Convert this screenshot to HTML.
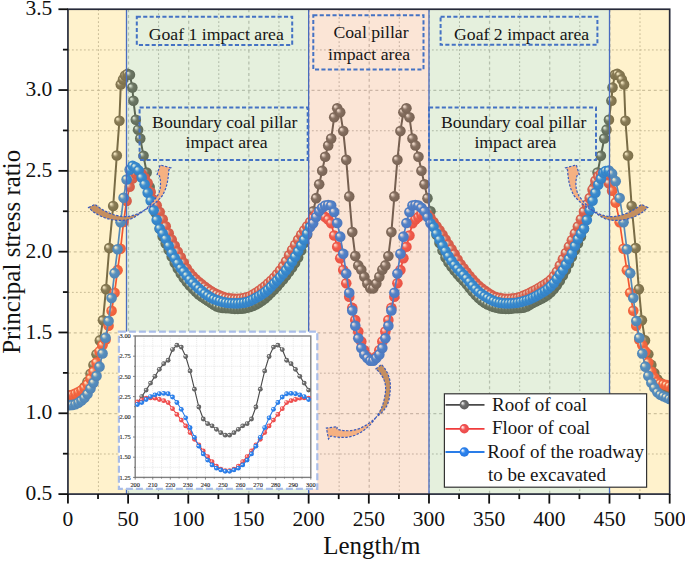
<!DOCTYPE html><html><head><meta charset="utf-8"><style>html,body{margin:0;padding:0;background:#fff;}svg{display:block;}text{font-family:"Liberation Serif",serif;}</style></head><body>
<svg width="685" height="561" viewBox="0 0 685 561">
<defs>
<radialGradient id="gG" cx="50%" cy="50%" r="50%" fx="27%" fy="30%"><stop offset="0" stop-color="#f4f4f4"/><stop offset="0.16" stop-color="#dcdcdc"/><stop offset="0.34" stop-color="#959595"/><stop offset="0.5" stop-color="#6c6c6c"/><stop offset="1" stop-color="#5c5c5c"/></radialGradient>
<radialGradient id="gR" cx="50%" cy="50%" r="50%" fx="27%" fy="30%"><stop offset="0" stop-color="#fff6f6"/><stop offset="0.16" stop-color="#ffd6d6"/><stop offset="0.34" stop-color="#f68484"/><stop offset="0.5" stop-color="#f25454"/><stop offset="1" stop-color="#ea4848"/></radialGradient>
<radialGradient id="gB" cx="50%" cy="50%" r="50%" fx="27%" fy="30%"><stop offset="0" stop-color="#f6faff"/><stop offset="0.16" stop-color="#d6e6fc"/><stop offset="0.34" stop-color="#68a6f2"/><stop offset="0.5" stop-color="#2c84ee"/><stop offset="1" stop-color="#2676e2"/></radialGradient>
<clipPath id="cp"><rect x="67.94" y="9.24" width="601.74" height="484.85"/></clipPath>
<linearGradient id="arrL" gradientUnits="userSpaceOnUse" x1="89" y1="0" x2="171" y2="0"><stop offset="0" stop-color="#c48c5b"/><stop offset="0.5" stop-color="#c99262"/><stop offset="0.72" stop-color="#f1ad7b"/><stop offset="1" stop-color="#f6b282"/></linearGradient>
<linearGradient id="arrM" gradientUnits="userSpaceOnUse" x1="0" y1="364" x2="0" y2="439"><stop offset="0" stop-color="#c48c5b"/><stop offset="0.5" stop-color="#c99262"/><stop offset="0.72" stop-color="#f1ad7b"/><stop offset="1" stop-color="#f6b282"/></linearGradient>
</defs>
<g stroke="#c4c4c4" stroke-width="1.25" stroke-dasharray="3 2.8"><line x1="128.51" y1="9.24" x2="128.51" y2="494.09"/><line x1="188.69" y1="9.24" x2="188.69" y2="494.09"/><line x1="248.86" y1="9.24" x2="248.86" y2="494.09"/><line x1="309.04" y1="9.24" x2="309.04" y2="494.09"/><line x1="369.21" y1="9.24" x2="369.21" y2="494.09"/><line x1="429.38" y1="9.24" x2="429.38" y2="494.09"/><line x1="489.56" y1="9.24" x2="489.56" y2="494.09"/><line x1="549.73" y1="9.24" x2="549.73" y2="494.09"/><line x1="609.91" y1="9.24" x2="609.91" y2="494.09"/><line x1="67.94" y1="413.58" x2="669.68" y2="413.58"/><line x1="67.94" y1="332.77" x2="669.68" y2="332.77"/><line x1="67.94" y1="251.97" x2="669.68" y2="251.97"/><line x1="67.94" y1="171.16" x2="669.68" y2="171.16"/><line x1="67.94" y1="90.35" x2="669.68" y2="90.35"/></g>
<g stroke="#bcbcbc" stroke-width="1" stroke-dasharray="1.8 2.2"><line x1="98.43" y1="9.24" x2="98.43" y2="494.09"/><line x1="158.60" y1="9.24" x2="158.60" y2="494.09"/><line x1="218.78" y1="9.24" x2="218.78" y2="494.09"/><line x1="278.95" y1="9.24" x2="278.95" y2="494.09"/><line x1="339.12" y1="9.24" x2="339.12" y2="494.09"/><line x1="399.30" y1="9.24" x2="399.30" y2="494.09"/><line x1="459.47" y1="9.24" x2="459.47" y2="494.09"/><line x1="519.65" y1="9.24" x2="519.65" y2="494.09"/><line x1="579.82" y1="9.24" x2="579.82" y2="494.09"/><line x1="639.99" y1="9.24" x2="639.99" y2="494.09"/><line x1="67.94" y1="453.99" x2="669.68" y2="453.99"/><line x1="67.94" y1="373.18" x2="669.68" y2="373.18"/><line x1="67.94" y1="292.37" x2="669.68" y2="292.37"/><line x1="67.94" y1="211.56" x2="669.68" y2="211.56"/><line x1="67.94" y1="130.75" x2="669.68" y2="130.75"/><line x1="67.94" y1="49.94" x2="669.68" y2="49.94"/></g>
<g clip-path="url(#cp)">
<polyline points="69.44,397.07 72.45,396.73 75.46,395.96 78.47,393.88 81.48,391.05 84.49,386.98 87.50,381.64 90.51,373.85 93.51,364.97 96.52,354.18 99.83,340.39 102.96,320.35 105.97,289.16 109.22,248.11 113.19,205.93 116.80,155.50 119.39,120.76 120.77,84.39 123.00,79.54 125.11,75.50 127.51,73.89 129.92,74.86 132.33,87.62 133.41,100.72 135.82,119.79 138.10,129.65 140.27,138.53 143.52,155.83 146.65,172.47 149.66,187.02 152.66,199.95 155.67,212.88 159.71,228.74 162.71,236.53 165.72,243.50 168.73,250.06 171.74,256.55 174.75,262.97 177.76,268.57 180.77,273.48 183.77,277.92 186.78,281.97 189.79,285.57 192.80,288.80 195.81,291.73 198.82,294.41 201.83,296.76 204.84,298.86 207.84,300.80 210.85,302.65 213.86,304.68 216.87,306.50 219.88,307.56 222.89,307.88 225.90,308.08 228.91,308.31 231.91,308.62 234.92,308.85 237.93,308.84 240.94,308.67 243.95,308.38 246.96,307.77 249.97,306.97 252.98,305.88 255.98,304.53 258.99,302.83 262.00,300.80 265.01,298.52 268.02,295.87 271.03,292.83 274.04,289.69 277.04,286.47 280.05,283.09 283.06,279.58 286.07,275.85 289.08,271.82 292.09,267.49 295.10,262.96 298.11,257.62 301.11,250.62 304.12,243.02 307.13,234.70 310.14,224.19 313.15,211.26 316.16,198.17 319.17,184.27 322.18,170.70 325.18,156.80 328.19,145.48 331.20,138.53 334.21,117.20 337.22,108.31 340.23,112.19 343.24,131.10 346.24,159.87 349.25,196.39 352.26,232.11 355.27,256.03 358.28,265.40 361.29,269.77 364.30,276.72 367.31,283.50 370.31,288.35 373.32,288.35 376.33,283.50 379.34,276.72 382.35,269.77 385.36,265.40 388.37,256.03 391.38,232.11 394.38,196.39 397.39,159.87 400.40,131.10 403.41,112.19 406.42,108.31 409.43,117.20 412.44,138.53 415.44,145.48 418.45,156.80 421.46,170.70 424.47,184.27 427.48,198.17 430.49,211.26 433.50,224.19 436.51,234.68 439.51,242.98 442.52,250.52 445.53,257.40 448.54,262.51 451.55,266.70 454.56,270.58 457.57,274.13 460.58,277.48 463.58,280.83 466.59,284.32 469.60,287.89 472.61,291.49 475.62,295.00 478.63,298.02 481.64,300.54 484.64,302.71 487.65,304.49 490.66,305.87 493.67,306.97 496.68,307.77 499.69,308.38 502.70,308.67 505.71,308.84 508.71,308.85 511.72,308.62 514.73,308.31 517.74,308.09 520.75,307.89 523.76,307.59 526.77,306.57 529.78,304.84 532.78,303.00 535.79,301.47 538.80,300.00 541.81,298.51 544.82,296.85 547.83,294.79 550.84,292.26 553.85,289.11 556.85,285.23 559.86,280.63 562.87,275.50 565.88,269.94 568.89,263.80 571.90,257.01 574.91,250.29 577.91,243.60 580.92,236.57 583.93,228.75 588.09,212.88 591.25,199.95 594.41,187.02 597.57,172.47 600.85,155.83 604.26,138.53 606.54,129.65 608.94,119.79 611.43,100.72 612.51,87.62 614.92,74.86 617.33,73.89 619.74,75.50 621.84,79.54 624.07,84.39 625.45,120.76 628.04,155.50 631.65,205.93 635.62,248.11 638.87,289.16 641.88,320.35 645.01,340.39 648.32,354.18 651.33,364.91 654.34,372.98 657.34,379.25 660.35,382.80 663.36,385.20 666.37,386.88 669.38,388.68 672.39,389.46 675.40,389.80" fill="none" stroke="#585858" stroke-width="2.0" stroke-linejoin="round"/>
<circle cx="69.44" cy="397.07" r="5.3" fill="url(#gG)"/><circle cx="72.45" cy="396.73" r="5.3" fill="url(#gG)"/><circle cx="75.46" cy="395.96" r="5.3" fill="url(#gG)"/><circle cx="78.47" cy="393.88" r="5.3" fill="url(#gG)"/><circle cx="81.48" cy="391.05" r="5.3" fill="url(#gG)"/><circle cx="84.49" cy="386.98" r="5.3" fill="url(#gG)"/><circle cx="87.50" cy="381.64" r="5.3" fill="url(#gG)"/><circle cx="90.51" cy="373.85" r="5.3" fill="url(#gG)"/><circle cx="93.51" cy="364.97" r="5.3" fill="url(#gG)"/><circle cx="96.52" cy="354.18" r="5.3" fill="url(#gG)"/><circle cx="99.83" cy="340.39" r="5.3" fill="url(#gG)"/><circle cx="102.96" cy="320.35" r="5.3" fill="url(#gG)"/><circle cx="105.97" cy="289.16" r="5.3" fill="url(#gG)"/><circle cx="109.22" cy="248.11" r="5.3" fill="url(#gG)"/><circle cx="113.19" cy="205.93" r="5.3" fill="url(#gG)"/><circle cx="116.80" cy="155.50" r="5.3" fill="url(#gG)"/><circle cx="119.39" cy="120.76" r="5.3" fill="url(#gG)"/><circle cx="120.77" cy="84.39" r="5.3" fill="url(#gG)"/><circle cx="123.00" cy="79.54" r="5.3" fill="url(#gG)"/><circle cx="125.11" cy="75.50" r="5.3" fill="url(#gG)"/><circle cx="127.51" cy="73.89" r="5.3" fill="url(#gG)"/><circle cx="129.92" cy="74.86" r="5.3" fill="url(#gG)"/><circle cx="132.33" cy="87.62" r="5.3" fill="url(#gG)"/><circle cx="133.41" cy="100.72" r="5.3" fill="url(#gG)"/><circle cx="135.82" cy="119.79" r="5.3" fill="url(#gG)"/><circle cx="138.10" cy="129.65" r="5.3" fill="url(#gG)"/><circle cx="140.27" cy="138.53" r="5.3" fill="url(#gG)"/><circle cx="143.52" cy="155.83" r="5.3" fill="url(#gG)"/><circle cx="146.65" cy="172.47" r="5.3" fill="url(#gG)"/><circle cx="149.66" cy="187.02" r="5.3" fill="url(#gG)"/><circle cx="152.66" cy="199.95" r="5.3" fill="url(#gG)"/><circle cx="155.67" cy="212.88" r="5.3" fill="url(#gG)"/><circle cx="159.71" cy="228.74" r="5.3" fill="url(#gG)"/><circle cx="162.71" cy="236.53" r="5.3" fill="url(#gG)"/><circle cx="165.72" cy="243.50" r="5.3" fill="url(#gG)"/><circle cx="168.73" cy="250.06" r="5.3" fill="url(#gG)"/><circle cx="171.74" cy="256.55" r="5.3" fill="url(#gG)"/><circle cx="174.75" cy="262.97" r="5.3" fill="url(#gG)"/><circle cx="177.76" cy="268.57" r="5.3" fill="url(#gG)"/><circle cx="180.77" cy="273.48" r="5.3" fill="url(#gG)"/><circle cx="183.77" cy="277.92" r="5.3" fill="url(#gG)"/><circle cx="186.78" cy="281.97" r="5.3" fill="url(#gG)"/><circle cx="189.79" cy="285.57" r="5.3" fill="url(#gG)"/><circle cx="192.80" cy="288.80" r="5.3" fill="url(#gG)"/><circle cx="195.81" cy="291.73" r="5.3" fill="url(#gG)"/><circle cx="198.82" cy="294.41" r="5.3" fill="url(#gG)"/><circle cx="201.83" cy="296.76" r="5.3" fill="url(#gG)"/><circle cx="204.84" cy="298.86" r="5.3" fill="url(#gG)"/><circle cx="207.84" cy="300.80" r="5.3" fill="url(#gG)"/><circle cx="210.85" cy="302.65" r="5.3" fill="url(#gG)"/><circle cx="213.86" cy="304.68" r="5.3" fill="url(#gG)"/><circle cx="216.87" cy="306.50" r="5.3" fill="url(#gG)"/><circle cx="219.88" cy="307.56" r="5.3" fill="url(#gG)"/><circle cx="222.89" cy="307.88" r="5.3" fill="url(#gG)"/><circle cx="225.90" cy="308.08" r="5.3" fill="url(#gG)"/><circle cx="228.91" cy="308.31" r="5.3" fill="url(#gG)"/><circle cx="231.91" cy="308.62" r="5.3" fill="url(#gG)"/><circle cx="234.92" cy="308.85" r="5.3" fill="url(#gG)"/><circle cx="237.93" cy="308.84" r="5.3" fill="url(#gG)"/><circle cx="240.94" cy="308.67" r="5.3" fill="url(#gG)"/><circle cx="243.95" cy="308.38" r="5.3" fill="url(#gG)"/><circle cx="246.96" cy="307.77" r="5.3" fill="url(#gG)"/><circle cx="249.97" cy="306.97" r="5.3" fill="url(#gG)"/><circle cx="252.98" cy="305.88" r="5.3" fill="url(#gG)"/><circle cx="255.98" cy="304.53" r="5.3" fill="url(#gG)"/><circle cx="258.99" cy="302.83" r="5.3" fill="url(#gG)"/><circle cx="262.00" cy="300.80" r="5.3" fill="url(#gG)"/><circle cx="265.01" cy="298.52" r="5.3" fill="url(#gG)"/><circle cx="268.02" cy="295.87" r="5.3" fill="url(#gG)"/><circle cx="271.03" cy="292.83" r="5.3" fill="url(#gG)"/><circle cx="274.04" cy="289.69" r="5.3" fill="url(#gG)"/><circle cx="277.04" cy="286.47" r="5.3" fill="url(#gG)"/><circle cx="280.05" cy="283.09" r="5.3" fill="url(#gG)"/><circle cx="283.06" cy="279.58" r="5.3" fill="url(#gG)"/><circle cx="286.07" cy="275.85" r="5.3" fill="url(#gG)"/><circle cx="289.08" cy="271.82" r="5.3" fill="url(#gG)"/><circle cx="292.09" cy="267.49" r="5.3" fill="url(#gG)"/><circle cx="295.10" cy="262.96" r="5.3" fill="url(#gG)"/><circle cx="298.11" cy="257.62" r="5.3" fill="url(#gG)"/><circle cx="301.11" cy="250.62" r="5.3" fill="url(#gG)"/><circle cx="304.12" cy="243.02" r="5.3" fill="url(#gG)"/><circle cx="307.13" cy="234.70" r="5.3" fill="url(#gG)"/><circle cx="310.14" cy="224.19" r="5.3" fill="url(#gG)"/><circle cx="313.15" cy="211.26" r="5.3" fill="url(#gG)"/><circle cx="316.16" cy="198.17" r="5.3" fill="url(#gG)"/><circle cx="319.17" cy="184.27" r="5.3" fill="url(#gG)"/><circle cx="322.18" cy="170.70" r="5.3" fill="url(#gG)"/><circle cx="325.18" cy="156.80" r="5.3" fill="url(#gG)"/><circle cx="328.19" cy="145.48" r="5.3" fill="url(#gG)"/><circle cx="331.20" cy="138.53" r="5.3" fill="url(#gG)"/><circle cx="334.21" cy="117.20" r="5.3" fill="url(#gG)"/><circle cx="337.22" cy="108.31" r="5.3" fill="url(#gG)"/><circle cx="340.23" cy="112.19" r="5.3" fill="url(#gG)"/><circle cx="343.24" cy="131.10" r="5.3" fill="url(#gG)"/><circle cx="346.24" cy="159.87" r="5.3" fill="url(#gG)"/><circle cx="349.25" cy="196.39" r="5.3" fill="url(#gG)"/><circle cx="352.26" cy="232.11" r="5.3" fill="url(#gG)"/><circle cx="355.27" cy="256.03" r="5.3" fill="url(#gG)"/><circle cx="358.28" cy="265.40" r="5.3" fill="url(#gG)"/><circle cx="361.29" cy="269.77" r="5.3" fill="url(#gG)"/><circle cx="364.30" cy="276.72" r="5.3" fill="url(#gG)"/><circle cx="367.31" cy="283.50" r="5.3" fill="url(#gG)"/><circle cx="370.31" cy="288.35" r="5.3" fill="url(#gG)"/><circle cx="373.32" cy="288.35" r="5.3" fill="url(#gG)"/><circle cx="376.33" cy="283.50" r="5.3" fill="url(#gG)"/><circle cx="379.34" cy="276.72" r="5.3" fill="url(#gG)"/><circle cx="382.35" cy="269.77" r="5.3" fill="url(#gG)"/><circle cx="385.36" cy="265.40" r="5.3" fill="url(#gG)"/><circle cx="388.37" cy="256.03" r="5.3" fill="url(#gG)"/><circle cx="391.38" cy="232.11" r="5.3" fill="url(#gG)"/><circle cx="394.38" cy="196.39" r="5.3" fill="url(#gG)"/><circle cx="397.39" cy="159.87" r="5.3" fill="url(#gG)"/><circle cx="400.40" cy="131.10" r="5.3" fill="url(#gG)"/><circle cx="403.41" cy="112.19" r="5.3" fill="url(#gG)"/><circle cx="406.42" cy="108.31" r="5.3" fill="url(#gG)"/><circle cx="409.43" cy="117.20" r="5.3" fill="url(#gG)"/><circle cx="412.44" cy="138.53" r="5.3" fill="url(#gG)"/><circle cx="415.44" cy="145.48" r="5.3" fill="url(#gG)"/><circle cx="418.45" cy="156.80" r="5.3" fill="url(#gG)"/><circle cx="421.46" cy="170.70" r="5.3" fill="url(#gG)"/><circle cx="424.47" cy="184.27" r="5.3" fill="url(#gG)"/><circle cx="427.48" cy="198.17" r="5.3" fill="url(#gG)"/><circle cx="430.49" cy="211.26" r="5.3" fill="url(#gG)"/><circle cx="433.50" cy="224.19" r="5.3" fill="url(#gG)"/><circle cx="436.51" cy="234.68" r="5.3" fill="url(#gG)"/><circle cx="439.51" cy="242.98" r="5.3" fill="url(#gG)"/><circle cx="442.52" cy="250.52" r="5.3" fill="url(#gG)"/><circle cx="445.53" cy="257.40" r="5.3" fill="url(#gG)"/><circle cx="448.54" cy="262.51" r="5.3" fill="url(#gG)"/><circle cx="451.55" cy="266.70" r="5.3" fill="url(#gG)"/><circle cx="454.56" cy="270.58" r="5.3" fill="url(#gG)"/><circle cx="457.57" cy="274.13" r="5.3" fill="url(#gG)"/><circle cx="460.58" cy="277.48" r="5.3" fill="url(#gG)"/><circle cx="463.58" cy="280.83" r="5.3" fill="url(#gG)"/><circle cx="466.59" cy="284.32" r="5.3" fill="url(#gG)"/><circle cx="469.60" cy="287.89" r="5.3" fill="url(#gG)"/><circle cx="472.61" cy="291.49" r="5.3" fill="url(#gG)"/><circle cx="475.62" cy="295.00" r="5.3" fill="url(#gG)"/><circle cx="478.63" cy="298.02" r="5.3" fill="url(#gG)"/><circle cx="481.64" cy="300.54" r="5.3" fill="url(#gG)"/><circle cx="484.64" cy="302.71" r="5.3" fill="url(#gG)"/><circle cx="487.65" cy="304.49" r="5.3" fill="url(#gG)"/><circle cx="490.66" cy="305.87" r="5.3" fill="url(#gG)"/><circle cx="493.67" cy="306.97" r="5.3" fill="url(#gG)"/><circle cx="496.68" cy="307.77" r="5.3" fill="url(#gG)"/><circle cx="499.69" cy="308.38" r="5.3" fill="url(#gG)"/><circle cx="502.70" cy="308.67" r="5.3" fill="url(#gG)"/><circle cx="505.71" cy="308.84" r="5.3" fill="url(#gG)"/><circle cx="508.71" cy="308.85" r="5.3" fill="url(#gG)"/><circle cx="511.72" cy="308.62" r="5.3" fill="url(#gG)"/><circle cx="514.73" cy="308.31" r="5.3" fill="url(#gG)"/><circle cx="517.74" cy="308.09" r="5.3" fill="url(#gG)"/><circle cx="520.75" cy="307.89" r="5.3" fill="url(#gG)"/><circle cx="523.76" cy="307.59" r="5.3" fill="url(#gG)"/><circle cx="526.77" cy="306.57" r="5.3" fill="url(#gG)"/><circle cx="529.78" cy="304.84" r="5.3" fill="url(#gG)"/><circle cx="532.78" cy="303.00" r="5.3" fill="url(#gG)"/><circle cx="535.79" cy="301.47" r="5.3" fill="url(#gG)"/><circle cx="538.80" cy="300.00" r="5.3" fill="url(#gG)"/><circle cx="541.81" cy="298.51" r="5.3" fill="url(#gG)"/><circle cx="544.82" cy="296.85" r="5.3" fill="url(#gG)"/><circle cx="547.83" cy="294.79" r="5.3" fill="url(#gG)"/><circle cx="550.84" cy="292.26" r="5.3" fill="url(#gG)"/><circle cx="553.85" cy="289.11" r="5.3" fill="url(#gG)"/><circle cx="556.85" cy="285.23" r="5.3" fill="url(#gG)"/><circle cx="559.86" cy="280.63" r="5.3" fill="url(#gG)"/><circle cx="562.87" cy="275.50" r="5.3" fill="url(#gG)"/><circle cx="565.88" cy="269.94" r="5.3" fill="url(#gG)"/><circle cx="568.89" cy="263.80" r="5.3" fill="url(#gG)"/><circle cx="571.90" cy="257.01" r="5.3" fill="url(#gG)"/><circle cx="574.91" cy="250.29" r="5.3" fill="url(#gG)"/><circle cx="577.91" cy="243.60" r="5.3" fill="url(#gG)"/><circle cx="580.92" cy="236.57" r="5.3" fill="url(#gG)"/><circle cx="583.93" cy="228.75" r="5.3" fill="url(#gG)"/><circle cx="588.09" cy="212.88" r="5.3" fill="url(#gG)"/><circle cx="591.25" cy="199.95" r="5.3" fill="url(#gG)"/><circle cx="594.41" cy="187.02" r="5.3" fill="url(#gG)"/><circle cx="597.57" cy="172.47" r="5.3" fill="url(#gG)"/><circle cx="600.85" cy="155.83" r="5.3" fill="url(#gG)"/><circle cx="604.26" cy="138.53" r="5.3" fill="url(#gG)"/><circle cx="606.54" cy="129.65" r="5.3" fill="url(#gG)"/><circle cx="608.94" cy="119.79" r="5.3" fill="url(#gG)"/><circle cx="611.43" cy="100.72" r="5.3" fill="url(#gG)"/><circle cx="612.51" cy="87.62" r="5.3" fill="url(#gG)"/><circle cx="614.92" cy="74.86" r="5.3" fill="url(#gG)"/><circle cx="617.33" cy="73.89" r="5.3" fill="url(#gG)"/><circle cx="619.74" cy="75.50" r="5.3" fill="url(#gG)"/><circle cx="621.84" cy="79.54" r="5.3" fill="url(#gG)"/><circle cx="624.07" cy="84.39" r="5.3" fill="url(#gG)"/><circle cx="625.45" cy="120.76" r="5.3" fill="url(#gG)"/><circle cx="628.04" cy="155.50" r="5.3" fill="url(#gG)"/><circle cx="631.65" cy="205.93" r="5.3" fill="url(#gG)"/><circle cx="635.62" cy="248.11" r="5.3" fill="url(#gG)"/><circle cx="638.87" cy="289.16" r="5.3" fill="url(#gG)"/><circle cx="641.88" cy="320.35" r="5.3" fill="url(#gG)"/><circle cx="645.01" cy="340.39" r="5.3" fill="url(#gG)"/><circle cx="648.32" cy="354.18" r="5.3" fill="url(#gG)"/><circle cx="651.33" cy="364.91" r="5.3" fill="url(#gG)"/><circle cx="654.34" cy="372.98" r="5.3" fill="url(#gG)"/><circle cx="657.34" cy="379.25" r="5.3" fill="url(#gG)"/><circle cx="660.35" cy="382.80" r="5.3" fill="url(#gG)"/><circle cx="663.36" cy="385.20" r="5.3" fill="url(#gG)"/><circle cx="666.37" cy="386.88" r="5.3" fill="url(#gG)"/><circle cx="669.38" cy="388.68" r="5.3" fill="url(#gG)"/><circle cx="672.39" cy="389.46" r="5.3" fill="url(#gG)"/><circle cx="675.40" cy="389.80" r="5.3" fill="url(#gG)"/>
<polyline points="69.44,395.34 72.45,394.71 75.46,393.62 78.47,392.12 81.48,390.19 84.49,387.68 87.50,384.27 90.51,378.74 93.51,371.56 96.52,362.54 99.53,351.39 102.54,345.18 105.55,339.81 108.56,325.75 111.57,310.77 114.57,292.80 117.58,270.13 120.59,248.69 123.60,221.93 126.61,200.90 129.62,186.82 132.63,178.53 135.64,173.80 138.64,171.69 141.65,173.82 144.66,177.69 147.67,183.11 150.68,192.00 153.69,199.78 156.70,205.40 159.71,211.96 162.71,219.31 165.72,226.37 168.73,233.19 171.74,239.67 174.75,245.83 177.76,251.65 180.77,257.22 183.77,262.81 186.78,268.38 189.79,272.74 192.80,276.22 195.81,279.25 198.82,281.94 201.83,284.40 204.84,286.79 207.84,289.06 210.85,291.00 213.86,292.71 216.87,294.24 219.88,295.55 222.89,296.75 225.90,297.78 228.91,298.33 231.91,298.65 234.92,298.84 237.93,298.78 240.94,298.43 243.95,297.96 246.96,297.22 249.97,296.19 252.98,294.57 255.98,292.69 258.99,290.74 262.00,288.58 265.01,286.18 268.02,283.56 271.03,280.80 274.04,277.78 277.04,274.34 280.05,270.52 283.06,266.34 286.07,261.25 289.08,255.27 292.09,249.97 295.10,244.90 298.11,239.84 301.11,234.92 304.12,230.40 307.13,226.25 310.14,222.09 313.15,217.73 316.16,214.49 319.17,214.01 322.18,214.49 325.18,217.08 328.19,219.50 331.20,223.22 334.21,235.50 337.22,246.82 340.23,258.13 343.24,269.93 346.24,283.18 349.25,296.76 352.26,307.91 355.27,320.03 358.28,331.50 361.29,341.53 364.30,350.25 367.31,356.56 370.31,359.46 373.32,359.46 376.33,356.56 379.34,350.25 382.35,341.53 385.36,331.50 388.37,320.03 391.38,307.91 394.38,296.76 397.39,283.18 400.40,269.93 403.41,258.13 406.42,246.82 409.43,235.50 412.44,223.22 415.44,219.50 418.45,217.08 421.46,214.49 424.47,214.01 427.48,214.49 430.49,217.73 433.50,222.09 436.51,226.23 439.51,230.36 442.52,234.83 445.53,239.62 448.54,244.45 451.55,249.18 454.56,254.03 457.57,259.53 460.58,264.24 463.58,268.26 466.59,272.19 469.60,275.98 472.61,279.46 475.62,282.68 478.63,285.68 481.64,288.32 484.64,290.62 487.65,292.65 490.66,294.55 493.67,296.19 496.68,297.22 499.69,297.96 502.70,298.43 505.71,298.78 508.71,298.84 511.72,298.65 514.73,298.33 517.74,297.78 520.75,296.76 523.76,295.58 526.77,294.31 529.78,292.88 532.78,291.35 535.79,289.72 538.80,287.93 541.81,286.16 544.82,284.38 547.83,282.32 550.84,279.69 553.85,276.28 556.85,271.64 559.86,265.52 562.87,259.24 565.88,253.02 568.89,246.66 571.90,240.13 574.91,233.41 577.91,226.46 580.92,219.25 583.93,211.61 586.86,204.46 589.71,198.04 592.55,189.66 595.40,180.86 598.25,176.37 600.95,174.04 603.30,173.62 605.66,177.44 608.83,183.35 612.09,190.66 615.70,202.59 619.66,222.27 623.56,248.73 626.87,270.13 630.18,292.80 633.27,310.77 636.28,325.75 639.29,339.81 642.30,345.18 645.31,351.39 648.32,362.54 651.33,371.51 654.34,377.86 657.34,381.89 660.35,383.50 663.36,384.33 666.37,385.12 669.38,386.35 672.39,387.44 675.40,388.07" fill="none" stroke="#f03c3c" stroke-width="1.7" stroke-linejoin="round"/>
<circle cx="69.44" cy="395.34" r="5.3" fill="url(#gR)"/><circle cx="72.45" cy="394.71" r="5.3" fill="url(#gR)"/><circle cx="75.46" cy="393.62" r="5.3" fill="url(#gR)"/><circle cx="78.47" cy="392.12" r="5.3" fill="url(#gR)"/><circle cx="81.48" cy="390.19" r="5.3" fill="url(#gR)"/><circle cx="84.49" cy="387.68" r="5.3" fill="url(#gR)"/><circle cx="87.50" cy="384.27" r="5.3" fill="url(#gR)"/><circle cx="90.51" cy="378.74" r="5.3" fill="url(#gR)"/><circle cx="93.51" cy="371.56" r="5.3" fill="url(#gR)"/><circle cx="96.52" cy="362.54" r="5.3" fill="url(#gR)"/><circle cx="99.53" cy="351.39" r="5.3" fill="url(#gR)"/><circle cx="102.54" cy="345.18" r="5.3" fill="url(#gR)"/><circle cx="105.55" cy="339.81" r="5.3" fill="url(#gR)"/><circle cx="108.56" cy="325.75" r="5.3" fill="url(#gR)"/><circle cx="111.57" cy="310.77" r="5.3" fill="url(#gR)"/><circle cx="114.57" cy="292.80" r="5.3" fill="url(#gR)"/><circle cx="117.58" cy="270.13" r="5.3" fill="url(#gR)"/><circle cx="120.59" cy="248.69" r="5.3" fill="url(#gR)"/><circle cx="123.60" cy="221.93" r="5.3" fill="url(#gR)"/><circle cx="126.61" cy="200.90" r="5.3" fill="url(#gR)"/><circle cx="129.62" cy="186.82" r="5.3" fill="url(#gR)"/><circle cx="132.63" cy="178.53" r="5.3" fill="url(#gR)"/><circle cx="135.64" cy="173.80" r="5.3" fill="url(#gR)"/><circle cx="138.64" cy="171.69" r="5.3" fill="url(#gR)"/><circle cx="141.65" cy="173.82" r="5.3" fill="url(#gR)"/><circle cx="144.66" cy="177.69" r="5.3" fill="url(#gR)"/><circle cx="147.67" cy="183.11" r="5.3" fill="url(#gR)"/><circle cx="150.68" cy="192.00" r="5.3" fill="url(#gR)"/><circle cx="153.69" cy="199.78" r="5.3" fill="url(#gR)"/><circle cx="156.70" cy="205.40" r="5.3" fill="url(#gR)"/><circle cx="159.71" cy="211.96" r="5.3" fill="url(#gR)"/><circle cx="162.71" cy="219.31" r="5.3" fill="url(#gR)"/><circle cx="165.72" cy="226.37" r="5.3" fill="url(#gR)"/><circle cx="168.73" cy="233.19" r="5.3" fill="url(#gR)"/><circle cx="171.74" cy="239.67" r="5.3" fill="url(#gR)"/><circle cx="174.75" cy="245.83" r="5.3" fill="url(#gR)"/><circle cx="177.76" cy="251.65" r="5.3" fill="url(#gR)"/><circle cx="180.77" cy="257.22" r="5.3" fill="url(#gR)"/><circle cx="183.77" cy="262.81" r="5.3" fill="url(#gR)"/><circle cx="186.78" cy="268.38" r="5.3" fill="url(#gR)"/><circle cx="189.79" cy="272.74" r="5.3" fill="url(#gR)"/><circle cx="192.80" cy="276.22" r="5.3" fill="url(#gR)"/><circle cx="195.81" cy="279.25" r="5.3" fill="url(#gR)"/><circle cx="198.82" cy="281.94" r="5.3" fill="url(#gR)"/><circle cx="201.83" cy="284.40" r="5.3" fill="url(#gR)"/><circle cx="204.84" cy="286.79" r="5.3" fill="url(#gR)"/><circle cx="207.84" cy="289.06" r="5.3" fill="url(#gR)"/><circle cx="210.85" cy="291.00" r="5.3" fill="url(#gR)"/><circle cx="213.86" cy="292.71" r="5.3" fill="url(#gR)"/><circle cx="216.87" cy="294.24" r="5.3" fill="url(#gR)"/><circle cx="219.88" cy="295.55" r="5.3" fill="url(#gR)"/><circle cx="222.89" cy="296.75" r="5.3" fill="url(#gR)"/><circle cx="225.90" cy="297.78" r="5.3" fill="url(#gR)"/><circle cx="228.91" cy="298.33" r="5.3" fill="url(#gR)"/><circle cx="231.91" cy="298.65" r="5.3" fill="url(#gR)"/><circle cx="234.92" cy="298.84" r="5.3" fill="url(#gR)"/><circle cx="237.93" cy="298.78" r="5.3" fill="url(#gR)"/><circle cx="240.94" cy="298.43" r="5.3" fill="url(#gR)"/><circle cx="243.95" cy="297.96" r="5.3" fill="url(#gR)"/><circle cx="246.96" cy="297.22" r="5.3" fill="url(#gR)"/><circle cx="249.97" cy="296.19" r="5.3" fill="url(#gR)"/><circle cx="252.98" cy="294.57" r="5.3" fill="url(#gR)"/><circle cx="255.98" cy="292.69" r="5.3" fill="url(#gR)"/><circle cx="258.99" cy="290.74" r="5.3" fill="url(#gR)"/><circle cx="262.00" cy="288.58" r="5.3" fill="url(#gR)"/><circle cx="265.01" cy="286.18" r="5.3" fill="url(#gR)"/><circle cx="268.02" cy="283.56" r="5.3" fill="url(#gR)"/><circle cx="271.03" cy="280.80" r="5.3" fill="url(#gR)"/><circle cx="274.04" cy="277.78" r="5.3" fill="url(#gR)"/><circle cx="277.04" cy="274.34" r="5.3" fill="url(#gR)"/><circle cx="280.05" cy="270.52" r="5.3" fill="url(#gR)"/><circle cx="283.06" cy="266.34" r="5.3" fill="url(#gR)"/><circle cx="286.07" cy="261.25" r="5.3" fill="url(#gR)"/><circle cx="289.08" cy="255.27" r="5.3" fill="url(#gR)"/><circle cx="292.09" cy="249.97" r="5.3" fill="url(#gR)"/><circle cx="295.10" cy="244.90" r="5.3" fill="url(#gR)"/><circle cx="298.11" cy="239.84" r="5.3" fill="url(#gR)"/><circle cx="301.11" cy="234.92" r="5.3" fill="url(#gR)"/><circle cx="304.12" cy="230.40" r="5.3" fill="url(#gR)"/><circle cx="307.13" cy="226.25" r="5.3" fill="url(#gR)"/><circle cx="310.14" cy="222.09" r="5.3" fill="url(#gR)"/><circle cx="313.15" cy="217.73" r="5.3" fill="url(#gR)"/><circle cx="316.16" cy="214.49" r="5.3" fill="url(#gR)"/><circle cx="319.17" cy="214.01" r="5.3" fill="url(#gR)"/><circle cx="322.18" cy="214.49" r="5.3" fill="url(#gR)"/><circle cx="325.18" cy="217.08" r="5.3" fill="url(#gR)"/><circle cx="328.19" cy="219.50" r="5.3" fill="url(#gR)"/><circle cx="331.20" cy="223.22" r="5.3" fill="url(#gR)"/><circle cx="334.21" cy="235.50" r="5.3" fill="url(#gR)"/><circle cx="337.22" cy="246.82" r="5.3" fill="url(#gR)"/><circle cx="340.23" cy="258.13" r="5.3" fill="url(#gR)"/><circle cx="343.24" cy="269.93" r="5.3" fill="url(#gR)"/><circle cx="346.24" cy="283.18" r="5.3" fill="url(#gR)"/><circle cx="349.25" cy="296.76" r="5.3" fill="url(#gR)"/><circle cx="352.26" cy="307.91" r="5.3" fill="url(#gR)"/><circle cx="355.27" cy="320.03" r="5.3" fill="url(#gR)"/><circle cx="358.28" cy="331.50" r="5.3" fill="url(#gR)"/><circle cx="361.29" cy="341.53" r="5.3" fill="url(#gR)"/><circle cx="364.30" cy="350.25" r="5.3" fill="url(#gR)"/><circle cx="367.31" cy="356.56" r="5.3" fill="url(#gR)"/><circle cx="370.31" cy="359.46" r="5.3" fill="url(#gR)"/><circle cx="373.32" cy="359.46" r="5.3" fill="url(#gR)"/><circle cx="376.33" cy="356.56" r="5.3" fill="url(#gR)"/><circle cx="379.34" cy="350.25" r="5.3" fill="url(#gR)"/><circle cx="382.35" cy="341.53" r="5.3" fill="url(#gR)"/><circle cx="385.36" cy="331.50" r="5.3" fill="url(#gR)"/><circle cx="388.37" cy="320.03" r="5.3" fill="url(#gR)"/><circle cx="391.38" cy="307.91" r="5.3" fill="url(#gR)"/><circle cx="394.38" cy="296.76" r="5.3" fill="url(#gR)"/><circle cx="397.39" cy="283.18" r="5.3" fill="url(#gR)"/><circle cx="400.40" cy="269.93" r="5.3" fill="url(#gR)"/><circle cx="403.41" cy="258.13" r="5.3" fill="url(#gR)"/><circle cx="406.42" cy="246.82" r="5.3" fill="url(#gR)"/><circle cx="409.43" cy="235.50" r="5.3" fill="url(#gR)"/><circle cx="412.44" cy="223.22" r="5.3" fill="url(#gR)"/><circle cx="415.44" cy="219.50" r="5.3" fill="url(#gR)"/><circle cx="418.45" cy="217.08" r="5.3" fill="url(#gR)"/><circle cx="421.46" cy="214.49" r="5.3" fill="url(#gR)"/><circle cx="424.47" cy="214.01" r="5.3" fill="url(#gR)"/><circle cx="427.48" cy="214.49" r="5.3" fill="url(#gR)"/><circle cx="430.49" cy="217.73" r="5.3" fill="url(#gR)"/><circle cx="433.50" cy="222.09" r="5.3" fill="url(#gR)"/><circle cx="436.51" cy="226.23" r="5.3" fill="url(#gR)"/><circle cx="439.51" cy="230.36" r="5.3" fill="url(#gR)"/><circle cx="442.52" cy="234.83" r="5.3" fill="url(#gR)"/><circle cx="445.53" cy="239.62" r="5.3" fill="url(#gR)"/><circle cx="448.54" cy="244.45" r="5.3" fill="url(#gR)"/><circle cx="451.55" cy="249.18" r="5.3" fill="url(#gR)"/><circle cx="454.56" cy="254.03" r="5.3" fill="url(#gR)"/><circle cx="457.57" cy="259.53" r="5.3" fill="url(#gR)"/><circle cx="460.58" cy="264.24" r="5.3" fill="url(#gR)"/><circle cx="463.58" cy="268.26" r="5.3" fill="url(#gR)"/><circle cx="466.59" cy="272.19" r="5.3" fill="url(#gR)"/><circle cx="469.60" cy="275.98" r="5.3" fill="url(#gR)"/><circle cx="472.61" cy="279.46" r="5.3" fill="url(#gR)"/><circle cx="475.62" cy="282.68" r="5.3" fill="url(#gR)"/><circle cx="478.63" cy="285.68" r="5.3" fill="url(#gR)"/><circle cx="481.64" cy="288.32" r="5.3" fill="url(#gR)"/><circle cx="484.64" cy="290.62" r="5.3" fill="url(#gR)"/><circle cx="487.65" cy="292.65" r="5.3" fill="url(#gR)"/><circle cx="490.66" cy="294.55" r="5.3" fill="url(#gR)"/><circle cx="493.67" cy="296.19" r="5.3" fill="url(#gR)"/><circle cx="496.68" cy="297.22" r="5.3" fill="url(#gR)"/><circle cx="499.69" cy="297.96" r="5.3" fill="url(#gR)"/><circle cx="502.70" cy="298.43" r="5.3" fill="url(#gR)"/><circle cx="505.71" cy="298.78" r="5.3" fill="url(#gR)"/><circle cx="508.71" cy="298.84" r="5.3" fill="url(#gR)"/><circle cx="511.72" cy="298.65" r="5.3" fill="url(#gR)"/><circle cx="514.73" cy="298.33" r="5.3" fill="url(#gR)"/><circle cx="517.74" cy="297.78" r="5.3" fill="url(#gR)"/><circle cx="520.75" cy="296.76" r="5.3" fill="url(#gR)"/><circle cx="523.76" cy="295.58" r="5.3" fill="url(#gR)"/><circle cx="526.77" cy="294.31" r="5.3" fill="url(#gR)"/><circle cx="529.78" cy="292.88" r="5.3" fill="url(#gR)"/><circle cx="532.78" cy="291.35" r="5.3" fill="url(#gR)"/><circle cx="535.79" cy="289.72" r="5.3" fill="url(#gR)"/><circle cx="538.80" cy="287.93" r="5.3" fill="url(#gR)"/><circle cx="541.81" cy="286.16" r="5.3" fill="url(#gR)"/><circle cx="544.82" cy="284.38" r="5.3" fill="url(#gR)"/><circle cx="547.83" cy="282.32" r="5.3" fill="url(#gR)"/><circle cx="550.84" cy="279.69" r="5.3" fill="url(#gR)"/><circle cx="553.85" cy="276.28" r="5.3" fill="url(#gR)"/><circle cx="556.85" cy="271.64" r="5.3" fill="url(#gR)"/><circle cx="559.86" cy="265.52" r="5.3" fill="url(#gR)"/><circle cx="562.87" cy="259.24" r="5.3" fill="url(#gR)"/><circle cx="565.88" cy="253.02" r="5.3" fill="url(#gR)"/><circle cx="568.89" cy="246.66" r="5.3" fill="url(#gR)"/><circle cx="571.90" cy="240.13" r="5.3" fill="url(#gR)"/><circle cx="574.91" cy="233.41" r="5.3" fill="url(#gR)"/><circle cx="577.91" cy="226.46" r="5.3" fill="url(#gR)"/><circle cx="580.92" cy="219.25" r="5.3" fill="url(#gR)"/><circle cx="583.93" cy="211.61" r="5.3" fill="url(#gR)"/><circle cx="586.86" cy="204.46" r="5.3" fill="url(#gR)"/><circle cx="589.71" cy="198.04" r="5.3" fill="url(#gR)"/><circle cx="592.55" cy="189.66" r="5.3" fill="url(#gR)"/><circle cx="595.40" cy="180.86" r="5.3" fill="url(#gR)"/><circle cx="598.25" cy="176.37" r="5.3" fill="url(#gR)"/><circle cx="600.95" cy="174.04" r="5.3" fill="url(#gR)"/><circle cx="603.30" cy="173.62" r="5.3" fill="url(#gR)"/><circle cx="605.66" cy="177.44" r="5.3" fill="url(#gR)"/><circle cx="608.83" cy="183.35" r="5.3" fill="url(#gR)"/><circle cx="612.09" cy="190.66" r="5.3" fill="url(#gR)"/><circle cx="615.70" cy="202.59" r="5.3" fill="url(#gR)"/><circle cx="619.66" cy="222.27" r="5.3" fill="url(#gR)"/><circle cx="623.56" cy="248.73" r="5.3" fill="url(#gR)"/><circle cx="626.87" cy="270.13" r="5.3" fill="url(#gR)"/><circle cx="630.18" cy="292.80" r="5.3" fill="url(#gR)"/><circle cx="633.27" cy="310.77" r="5.3" fill="url(#gR)"/><circle cx="636.28" cy="325.75" r="5.3" fill="url(#gR)"/><circle cx="639.29" cy="339.81" r="5.3" fill="url(#gR)"/><circle cx="642.30" cy="345.18" r="5.3" fill="url(#gR)"/><circle cx="645.31" cy="351.39" r="5.3" fill="url(#gR)"/><circle cx="648.32" cy="362.54" r="5.3" fill="url(#gR)"/><circle cx="651.33" cy="371.51" r="5.3" fill="url(#gR)"/><circle cx="654.34" cy="377.86" r="5.3" fill="url(#gR)"/><circle cx="657.34" cy="381.89" r="5.3" fill="url(#gR)"/><circle cx="660.35" cy="383.50" r="5.3" fill="url(#gR)"/><circle cx="663.36" cy="384.33" r="5.3" fill="url(#gR)"/><circle cx="666.37" cy="385.12" r="5.3" fill="url(#gR)"/><circle cx="669.38" cy="386.35" r="5.3" fill="url(#gR)"/><circle cx="672.39" cy="387.44" r="5.3" fill="url(#gR)"/><circle cx="675.40" cy="388.07" r="5.3" fill="url(#gR)"/>
<polyline points="69.44,405.17 72.45,404.91 75.46,404.31 78.47,402.65 81.48,400.56 84.49,397.80 87.50,394.01 90.51,388.49 93.51,382.87 96.52,375.91 99.53,366.67 102.54,353.45 105.55,337.74 108.56,321.04 111.57,297.97 114.57,273.17 117.58,249.20 120.59,222.19 123.60,197.77 126.61,179.46 129.62,169.79 132.63,165.74 135.64,167.26 138.64,170.41 141.65,177.56 144.66,184.33 147.67,192.65 150.68,200.67 153.69,210.28 156.70,219.88 159.71,228.50 162.71,233.46 165.72,238.98 168.73,245.88 171.74,252.92 174.75,258.04 177.76,263.17 180.77,268.06 183.77,271.51 186.78,275.56 189.79,279.43 192.80,282.69 195.81,285.73 198.82,288.51 201.83,291.08 204.84,293.47 207.84,295.59 210.85,297.41 213.86,299.00 216.87,300.12 219.88,301.05 222.89,301.97 225.90,302.59 228.91,303.07 231.91,303.27 234.92,303.36 237.93,303.37 240.94,303.11 243.95,302.67 246.96,301.94 249.97,300.92 252.98,299.48 255.98,297.86 258.99,296.19 262.00,294.30 265.01,292.15 268.02,289.70 271.03,286.79 274.04,283.59 277.04,280.43 280.05,277.19 283.06,273.78 286.07,270.16 289.08,266.17 292.09,261.62 295.10,256.64 298.11,251.28 301.11,245.56 304.12,239.69 307.13,233.56 310.14,227.10 313.15,223.22 316.16,217.08 319.17,211.26 322.18,207.71 325.18,205.61 328.19,204.96 331.20,205.61 334.21,212.07 337.22,223.06 340.23,236.64 343.24,253.77 346.24,273.48 349.25,292.72 352.26,310.49 355.27,325.85 358.28,338.29 361.29,347.99 364.30,354.45 367.31,358.01 370.31,360.76 373.32,360.76 376.33,358.01 379.34,354.45 382.35,347.99 385.36,338.29 388.37,325.85 391.38,310.49 394.38,292.72 397.39,273.48 400.40,253.77 403.41,236.64 406.42,223.06 409.43,212.07 412.44,205.61 415.44,204.96 418.45,205.61 421.46,207.71 424.47,211.26 427.48,217.08 430.49,223.22 433.50,227.10 436.51,233.55 439.51,239.65 442.52,245.47 445.53,251.06 448.54,256.19 451.55,260.83 454.56,264.93 457.57,268.44 460.58,271.68 463.58,274.92 466.59,278.28 469.60,281.78 472.61,285.45 475.62,288.82 478.63,291.64 481.64,294.04 484.64,296.07 487.65,297.81 490.66,299.46 493.67,300.91 496.68,301.94 499.69,302.67 502.70,303.11 505.71,303.37 508.71,303.36 511.72,303.27 514.73,303.07 517.74,302.59 520.75,301.98 523.76,301.08 526.77,300.19 529.78,299.17 532.78,297.76 535.79,296.26 538.80,294.61 541.81,292.84 544.82,290.95 547.83,288.79 550.84,286.16 553.85,282.97 556.85,278.82 559.86,274.22 562.87,270.08 565.88,264.54 568.89,258.88 571.90,253.38 574.91,246.10 577.91,239.08 580.92,233.50 583.93,228.51 586.86,219.89 589.71,210.28 592.55,200.68 595.40,192.72 598.25,184.69 600.95,178.70 603.30,172.78 605.66,171.07 608.83,170.59 612.09,173.64 615.70,181.15 619.66,198.12 623.56,222.23 626.87,249.20 630.18,273.17 633.27,297.97 636.28,321.04 639.29,337.74 642.30,353.45 645.31,366.67 648.32,375.91 651.33,382.83 654.34,387.85 657.34,392.26 660.35,394.73 663.36,396.27 666.37,397.51 669.38,398.97 672.39,399.58 675.40,399.83" fill="none" stroke="#2a7de8" stroke-width="1.7" stroke-linejoin="round"/>
<circle cx="69.44" cy="405.17" r="5.3" fill="url(#gB)"/><circle cx="72.45" cy="404.91" r="5.3" fill="url(#gB)"/><circle cx="75.46" cy="404.31" r="5.3" fill="url(#gB)"/><circle cx="78.47" cy="402.65" r="5.3" fill="url(#gB)"/><circle cx="81.48" cy="400.56" r="5.3" fill="url(#gB)"/><circle cx="84.49" cy="397.80" r="5.3" fill="url(#gB)"/><circle cx="87.50" cy="394.01" r="5.3" fill="url(#gB)"/><circle cx="90.51" cy="388.49" r="5.3" fill="url(#gB)"/><circle cx="93.51" cy="382.87" r="5.3" fill="url(#gB)"/><circle cx="96.52" cy="375.91" r="5.3" fill="url(#gB)"/><circle cx="99.53" cy="366.67" r="5.3" fill="url(#gB)"/><circle cx="102.54" cy="353.45" r="5.3" fill="url(#gB)"/><circle cx="105.55" cy="337.74" r="5.3" fill="url(#gB)"/><circle cx="108.56" cy="321.04" r="5.3" fill="url(#gB)"/><circle cx="111.57" cy="297.97" r="5.3" fill="url(#gB)"/><circle cx="114.57" cy="273.17" r="5.3" fill="url(#gB)"/><circle cx="117.58" cy="249.20" r="5.3" fill="url(#gB)"/><circle cx="120.59" cy="222.19" r="5.3" fill="url(#gB)"/><circle cx="123.60" cy="197.77" r="5.3" fill="url(#gB)"/><circle cx="126.61" cy="179.46" r="5.3" fill="url(#gB)"/><circle cx="129.62" cy="169.79" r="5.3" fill="url(#gB)"/><circle cx="132.63" cy="165.74" r="5.3" fill="url(#gB)"/><circle cx="135.64" cy="167.26" r="5.3" fill="url(#gB)"/><circle cx="138.64" cy="170.41" r="5.3" fill="url(#gB)"/><circle cx="141.65" cy="177.56" r="5.3" fill="url(#gB)"/><circle cx="144.66" cy="184.33" r="5.3" fill="url(#gB)"/><circle cx="147.67" cy="192.65" r="5.3" fill="url(#gB)"/><circle cx="150.68" cy="200.67" r="5.3" fill="url(#gB)"/><circle cx="153.69" cy="210.28" r="5.3" fill="url(#gB)"/><circle cx="156.70" cy="219.88" r="5.3" fill="url(#gB)"/><circle cx="159.71" cy="228.50" r="5.3" fill="url(#gB)"/><circle cx="162.71" cy="233.46" r="5.3" fill="url(#gB)"/><circle cx="165.72" cy="238.98" r="5.3" fill="url(#gB)"/><circle cx="168.73" cy="245.88" r="5.3" fill="url(#gB)"/><circle cx="171.74" cy="252.92" r="5.3" fill="url(#gB)"/><circle cx="174.75" cy="258.04" r="5.3" fill="url(#gB)"/><circle cx="177.76" cy="263.17" r="5.3" fill="url(#gB)"/><circle cx="180.77" cy="268.06" r="5.3" fill="url(#gB)"/><circle cx="183.77" cy="271.51" r="5.3" fill="url(#gB)"/><circle cx="186.78" cy="275.56" r="5.3" fill="url(#gB)"/><circle cx="189.79" cy="279.43" r="5.3" fill="url(#gB)"/><circle cx="192.80" cy="282.69" r="5.3" fill="url(#gB)"/><circle cx="195.81" cy="285.73" r="5.3" fill="url(#gB)"/><circle cx="198.82" cy="288.51" r="5.3" fill="url(#gB)"/><circle cx="201.83" cy="291.08" r="5.3" fill="url(#gB)"/><circle cx="204.84" cy="293.47" r="5.3" fill="url(#gB)"/><circle cx="207.84" cy="295.59" r="5.3" fill="url(#gB)"/><circle cx="210.85" cy="297.41" r="5.3" fill="url(#gB)"/><circle cx="213.86" cy="299.00" r="5.3" fill="url(#gB)"/><circle cx="216.87" cy="300.12" r="5.3" fill="url(#gB)"/><circle cx="219.88" cy="301.05" r="5.3" fill="url(#gB)"/><circle cx="222.89" cy="301.97" r="5.3" fill="url(#gB)"/><circle cx="225.90" cy="302.59" r="5.3" fill="url(#gB)"/><circle cx="228.91" cy="303.07" r="5.3" fill="url(#gB)"/><circle cx="231.91" cy="303.27" r="5.3" fill="url(#gB)"/><circle cx="234.92" cy="303.36" r="5.3" fill="url(#gB)"/><circle cx="237.93" cy="303.37" r="5.3" fill="url(#gB)"/><circle cx="240.94" cy="303.11" r="5.3" fill="url(#gB)"/><circle cx="243.95" cy="302.67" r="5.3" fill="url(#gB)"/><circle cx="246.96" cy="301.94" r="5.3" fill="url(#gB)"/><circle cx="249.97" cy="300.92" r="5.3" fill="url(#gB)"/><circle cx="252.98" cy="299.48" r="5.3" fill="url(#gB)"/><circle cx="255.98" cy="297.86" r="5.3" fill="url(#gB)"/><circle cx="258.99" cy="296.19" r="5.3" fill="url(#gB)"/><circle cx="262.00" cy="294.30" r="5.3" fill="url(#gB)"/><circle cx="265.01" cy="292.15" r="5.3" fill="url(#gB)"/><circle cx="268.02" cy="289.70" r="5.3" fill="url(#gB)"/><circle cx="271.03" cy="286.79" r="5.3" fill="url(#gB)"/><circle cx="274.04" cy="283.59" r="5.3" fill="url(#gB)"/><circle cx="277.04" cy="280.43" r="5.3" fill="url(#gB)"/><circle cx="280.05" cy="277.19" r="5.3" fill="url(#gB)"/><circle cx="283.06" cy="273.78" r="5.3" fill="url(#gB)"/><circle cx="286.07" cy="270.16" r="5.3" fill="url(#gB)"/><circle cx="289.08" cy="266.17" r="5.3" fill="url(#gB)"/><circle cx="292.09" cy="261.62" r="5.3" fill="url(#gB)"/><circle cx="295.10" cy="256.64" r="5.3" fill="url(#gB)"/><circle cx="298.11" cy="251.28" r="5.3" fill="url(#gB)"/><circle cx="301.11" cy="245.56" r="5.3" fill="url(#gB)"/><circle cx="304.12" cy="239.69" r="5.3" fill="url(#gB)"/><circle cx="307.13" cy="233.56" r="5.3" fill="url(#gB)"/><circle cx="310.14" cy="227.10" r="5.3" fill="url(#gB)"/><circle cx="313.15" cy="223.22" r="5.3" fill="url(#gB)"/><circle cx="316.16" cy="217.08" r="5.3" fill="url(#gB)"/><circle cx="319.17" cy="211.26" r="5.3" fill="url(#gB)"/><circle cx="322.18" cy="207.71" r="5.3" fill="url(#gB)"/><circle cx="325.18" cy="205.61" r="5.3" fill="url(#gB)"/><circle cx="328.19" cy="204.96" r="5.3" fill="url(#gB)"/><circle cx="331.20" cy="205.61" r="5.3" fill="url(#gB)"/><circle cx="334.21" cy="212.07" r="5.3" fill="url(#gB)"/><circle cx="337.22" cy="223.06" r="5.3" fill="url(#gB)"/><circle cx="340.23" cy="236.64" r="5.3" fill="url(#gB)"/><circle cx="343.24" cy="253.77" r="5.3" fill="url(#gB)"/><circle cx="346.24" cy="273.48" r="5.3" fill="url(#gB)"/><circle cx="349.25" cy="292.72" r="5.3" fill="url(#gB)"/><circle cx="352.26" cy="310.49" r="5.3" fill="url(#gB)"/><circle cx="355.27" cy="325.85" r="5.3" fill="url(#gB)"/><circle cx="358.28" cy="338.29" r="5.3" fill="url(#gB)"/><circle cx="361.29" cy="347.99" r="5.3" fill="url(#gB)"/><circle cx="364.30" cy="354.45" r="5.3" fill="url(#gB)"/><circle cx="367.31" cy="358.01" r="5.3" fill="url(#gB)"/><circle cx="370.31" cy="360.76" r="5.3" fill="url(#gB)"/><circle cx="373.32" cy="360.76" r="5.3" fill="url(#gB)"/><circle cx="376.33" cy="358.01" r="5.3" fill="url(#gB)"/><circle cx="379.34" cy="354.45" r="5.3" fill="url(#gB)"/><circle cx="382.35" cy="347.99" r="5.3" fill="url(#gB)"/><circle cx="385.36" cy="338.29" r="5.3" fill="url(#gB)"/><circle cx="388.37" cy="325.85" r="5.3" fill="url(#gB)"/><circle cx="391.38" cy="310.49" r="5.3" fill="url(#gB)"/><circle cx="394.38" cy="292.72" r="5.3" fill="url(#gB)"/><circle cx="397.39" cy="273.48" r="5.3" fill="url(#gB)"/><circle cx="400.40" cy="253.77" r="5.3" fill="url(#gB)"/><circle cx="403.41" cy="236.64" r="5.3" fill="url(#gB)"/><circle cx="406.42" cy="223.06" r="5.3" fill="url(#gB)"/><circle cx="409.43" cy="212.07" r="5.3" fill="url(#gB)"/><circle cx="412.44" cy="205.61" r="5.3" fill="url(#gB)"/><circle cx="415.44" cy="204.96" r="5.3" fill="url(#gB)"/><circle cx="418.45" cy="205.61" r="5.3" fill="url(#gB)"/><circle cx="421.46" cy="207.71" r="5.3" fill="url(#gB)"/><circle cx="424.47" cy="211.26" r="5.3" fill="url(#gB)"/><circle cx="427.48" cy="217.08" r="5.3" fill="url(#gB)"/><circle cx="430.49" cy="223.22" r="5.3" fill="url(#gB)"/><circle cx="433.50" cy="227.10" r="5.3" fill="url(#gB)"/><circle cx="436.51" cy="233.55" r="5.3" fill="url(#gB)"/><circle cx="439.51" cy="239.65" r="5.3" fill="url(#gB)"/><circle cx="442.52" cy="245.47" r="5.3" fill="url(#gB)"/><circle cx="445.53" cy="251.06" r="5.3" fill="url(#gB)"/><circle cx="448.54" cy="256.19" r="5.3" fill="url(#gB)"/><circle cx="451.55" cy="260.83" r="5.3" fill="url(#gB)"/><circle cx="454.56" cy="264.93" r="5.3" fill="url(#gB)"/><circle cx="457.57" cy="268.44" r="5.3" fill="url(#gB)"/><circle cx="460.58" cy="271.68" r="5.3" fill="url(#gB)"/><circle cx="463.58" cy="274.92" r="5.3" fill="url(#gB)"/><circle cx="466.59" cy="278.28" r="5.3" fill="url(#gB)"/><circle cx="469.60" cy="281.78" r="5.3" fill="url(#gB)"/><circle cx="472.61" cy="285.45" r="5.3" fill="url(#gB)"/><circle cx="475.62" cy="288.82" r="5.3" fill="url(#gB)"/><circle cx="478.63" cy="291.64" r="5.3" fill="url(#gB)"/><circle cx="481.64" cy="294.04" r="5.3" fill="url(#gB)"/><circle cx="484.64" cy="296.07" r="5.3" fill="url(#gB)"/><circle cx="487.65" cy="297.81" r="5.3" fill="url(#gB)"/><circle cx="490.66" cy="299.46" r="5.3" fill="url(#gB)"/><circle cx="493.67" cy="300.91" r="5.3" fill="url(#gB)"/><circle cx="496.68" cy="301.94" r="5.3" fill="url(#gB)"/><circle cx="499.69" cy="302.67" r="5.3" fill="url(#gB)"/><circle cx="502.70" cy="303.11" r="5.3" fill="url(#gB)"/><circle cx="505.71" cy="303.37" r="5.3" fill="url(#gB)"/><circle cx="508.71" cy="303.36" r="5.3" fill="url(#gB)"/><circle cx="511.72" cy="303.27" r="5.3" fill="url(#gB)"/><circle cx="514.73" cy="303.07" r="5.3" fill="url(#gB)"/><circle cx="517.74" cy="302.59" r="5.3" fill="url(#gB)"/><circle cx="520.75" cy="301.98" r="5.3" fill="url(#gB)"/><circle cx="523.76" cy="301.08" r="5.3" fill="url(#gB)"/><circle cx="526.77" cy="300.19" r="5.3" fill="url(#gB)"/><circle cx="529.78" cy="299.17" r="5.3" fill="url(#gB)"/><circle cx="532.78" cy="297.76" r="5.3" fill="url(#gB)"/><circle cx="535.79" cy="296.26" r="5.3" fill="url(#gB)"/><circle cx="538.80" cy="294.61" r="5.3" fill="url(#gB)"/><circle cx="541.81" cy="292.84" r="5.3" fill="url(#gB)"/><circle cx="544.82" cy="290.95" r="5.3" fill="url(#gB)"/><circle cx="547.83" cy="288.79" r="5.3" fill="url(#gB)"/><circle cx="550.84" cy="286.16" r="5.3" fill="url(#gB)"/><circle cx="553.85" cy="282.97" r="5.3" fill="url(#gB)"/><circle cx="556.85" cy="278.82" r="5.3" fill="url(#gB)"/><circle cx="559.86" cy="274.22" r="5.3" fill="url(#gB)"/><circle cx="562.87" cy="270.08" r="5.3" fill="url(#gB)"/><circle cx="565.88" cy="264.54" r="5.3" fill="url(#gB)"/><circle cx="568.89" cy="258.88" r="5.3" fill="url(#gB)"/><circle cx="571.90" cy="253.38" r="5.3" fill="url(#gB)"/><circle cx="574.91" cy="246.10" r="5.3" fill="url(#gB)"/><circle cx="577.91" cy="239.08" r="5.3" fill="url(#gB)"/><circle cx="580.92" cy="233.50" r="5.3" fill="url(#gB)"/><circle cx="583.93" cy="228.51" r="5.3" fill="url(#gB)"/><circle cx="586.86" cy="219.89" r="5.3" fill="url(#gB)"/><circle cx="589.71" cy="210.28" r="5.3" fill="url(#gB)"/><circle cx="592.55" cy="200.68" r="5.3" fill="url(#gB)"/><circle cx="595.40" cy="192.72" r="5.3" fill="url(#gB)"/><circle cx="598.25" cy="184.69" r="5.3" fill="url(#gB)"/><circle cx="600.95" cy="178.70" r="5.3" fill="url(#gB)"/><circle cx="603.30" cy="172.78" r="5.3" fill="url(#gB)"/><circle cx="605.66" cy="171.07" r="5.3" fill="url(#gB)"/><circle cx="608.83" cy="170.59" r="5.3" fill="url(#gB)"/><circle cx="612.09" cy="173.64" r="5.3" fill="url(#gB)"/><circle cx="615.70" cy="181.15" r="5.3" fill="url(#gB)"/><circle cx="619.66" cy="198.12" r="5.3" fill="url(#gB)"/><circle cx="623.56" cy="222.23" r="5.3" fill="url(#gB)"/><circle cx="626.87" cy="249.20" r="5.3" fill="url(#gB)"/><circle cx="630.18" cy="273.17" r="5.3" fill="url(#gB)"/><circle cx="633.27" cy="297.97" r="5.3" fill="url(#gB)"/><circle cx="636.28" cy="321.04" r="5.3" fill="url(#gB)"/><circle cx="639.29" cy="337.74" r="5.3" fill="url(#gB)"/><circle cx="642.30" cy="353.45" r="5.3" fill="url(#gB)"/><circle cx="645.31" cy="366.67" r="5.3" fill="url(#gB)"/><circle cx="648.32" cy="375.91" r="5.3" fill="url(#gB)"/><circle cx="651.33" cy="382.83" r="5.3" fill="url(#gB)"/><circle cx="654.34" cy="387.85" r="5.3" fill="url(#gB)"/><circle cx="657.34" cy="392.26" r="5.3" fill="url(#gB)"/><circle cx="660.35" cy="394.73" r="5.3" fill="url(#gB)"/><circle cx="663.36" cy="396.27" r="5.3" fill="url(#gB)"/><circle cx="666.37" cy="397.51" r="5.3" fill="url(#gB)"/><circle cx="669.38" cy="398.97" r="5.3" fill="url(#gB)"/><circle cx="672.39" cy="399.58" r="5.3" fill="url(#gB)"/><circle cx="675.40" cy="399.83" r="5.3" fill="url(#gB)"/>
</g>
<rect x="67.94" y="9.24" width="58.56" height="484.85" fill="#ffc000" fill-opacity="0.2"/>
<rect x="126.50" y="9.24" width="182.14" height="484.85" fill="#70ad47" fill-opacity="0.185"/>
<rect x="308.64" y="9.24" width="120.35" height="484.85" fill="#ed7d31" fill-opacity="0.2"/>
<rect x="428.98" y="9.24" width="180.52" height="484.85" fill="#70ad47" fill-opacity="0.185"/>
<rect x="609.51" y="9.24" width="60.17" height="484.85" fill="#ffc000" fill-opacity="0.2"/>
<line x1="126.50" y1="9.24" x2="126.50" y2="494.09" stroke="#4a6cc0" stroke-width="1.3"/>
<line x1="308.64" y1="9.24" x2="308.64" y2="494.09" stroke="#4a6cc0" stroke-width="1.3"/>
<line x1="428.98" y1="9.24" x2="428.98" y2="494.09" stroke="#4a6cc0" stroke-width="1.3"/>
<line x1="609.51" y1="9.24" x2="609.51" y2="494.09" stroke="#4a6cc0" stroke-width="1.3"/>
<rect x="136.8" y="16.8" width="155.4" height="28.2" fill="none" stroke="#4472c4" stroke-width="2" stroke-dasharray="4.1 2.3"/>
<rect x="440.6" y="16.8" width="156.8" height="28.0" fill="none" stroke="#4472c4" stroke-width="2" stroke-dasharray="4.1 2.3"/>
<rect x="313.3" y="15.3" width="110.2" height="54.2" fill="none" stroke="#4472c4" stroke-width="2" stroke-dasharray="4.1 2.3"/>
<rect x="139.6" y="107.6" width="168.1" height="52.4" fill="none" stroke="#4472c4" stroke-width="2" stroke-dasharray="4.1 2.3"/>
<rect x="429.0" y="107.6" width="167.0" height="52.4" fill="none" stroke="#4472c4" stroke-width="2" stroke-dasharray="4.1 2.3"/>
<text x="148.7" y="39.8" font-size="17.7" fill="#161616">Goaf 1 impact area</text>
<text x="454.1" y="39.7" font-size="17.7" fill="#161616">Goaf 2 impact area</text>
<text x="333.4" y="38.3" font-size="17.7" fill="#161616">Coal pillar</text>
<text x="328.1" y="59.7" font-size="17.7" fill="#161616">impact area</text>
<text x="152.1" y="128.3" font-size="17.7" fill="#161616">Boundary coal pillar</text>
<text x="185.6" y="148.4" font-size="17.7" fill="#161616">impact area</text>
<text x="440.9" y="128.3" font-size="17.7" fill="#161616">Boundary coal pillar</text>
<text x="474.4" y="148.4" font-size="17.7" fill="#161616">impact area</text>
<g><path d="M88.6,207.5 L95,204.3 C103,211 113,215.6 122.8,216.6 C131,217 137.5,214.2 144,210.5 C140,213.5 136,216.5 131.3,218.7 C127,220.2 124,220.4 120,220.4 C108,220.4 96,215.5 88.6,207.5 Z" fill="#c58f5f" stroke="#3a5cc0" stroke-width="1.2" stroke-dasharray="2.4 1.5"/><path d="M144,210.5 C148,207.5 153,202 157,196.5 C160,192 161,186 160.3,180 L159.5,175.8 L157.1,174.7 L160.1,164.9 L170.8,167.8 L168.8,170 C168.3,180 166.5,189 162.5,195.3 C158,201.5 151,206.5 144,210.5 Z" fill="#f5b182" stroke="#3a5cc0" stroke-width="1.2" stroke-dasharray="2.4 1.5"/></g>
<g transform="translate(736.4,0) scale(-1,1)"><path d="M88.6,207.5 L95,204.3 C103,211 113,215.6 122.8,216.6 C131,217 137.5,214.2 144,210.5 C140,213.5 136,216.5 131.3,218.7 C127,220.2 124,220.4 120,220.4 C108,220.4 96,215.5 88.6,207.5 Z" fill="#c58f5f" stroke="#3a5cc0" stroke-width="1.2" stroke-dasharray="2.4 1.5"/><path d="M144,210.5 C148,207.5 153,202 157,196.5 C160,192 161,186 160.3,180 L159.5,175.8 L157.1,174.7 L160.1,164.9 L170.8,167.8 L168.8,170 C168.3,180 166.5,189 162.5,195.3 C158,201.5 151,206.5 144,210.5 Z" fill="#f5b182" stroke="#3a5cc0" stroke-width="1.2" stroke-dasharray="2.4 1.5"/></g>
<g><path d="M375.8,368.9 L381.5,364.5 C386,369 390.5,377 390.4,386 C390.3,396 388.5,404 385.6,407.8 C383.5,411 380,414.5 376,417.5 C378.5,414 381,410 382.1,406.4 C384.5,400 385.8,392 385.6,387 C385.2,380 381,373 375.8,368.9 Z" fill="#c58f5f" stroke="#3a5cc0" stroke-width="1.2" stroke-dasharray="2.4 1.5"/><path d="M376,417.5 C372,421.5 366,425.5 360,428.3 C353,431.2 345,431.5 336.9,429.3 L337.2,426.7 L326.4,428.1 L328.5,439 L331.1,436 C338,437.8 347,438.2 355,435.3 C363,432 370,426 376,417.5 Z" fill="#f5b182" stroke="#3a5cc0" stroke-width="1.2" stroke-dasharray="2.4 1.5"/></g>
<rect x="118.9" y="331.6" width="198.4" height="157.2" fill="#fff" stroke="#a9bde9" stroke-width="2.2" stroke-dasharray="7 3"/>
<g stroke="#e2e2e2" stroke-width="0.7" stroke-dasharray="1.2 0.8"><line x1="143.98" y1="336.00" x2="143.98" y2="477.40"/><line x1="152.76" y1="336.00" x2="152.76" y2="477.40"/><line x1="161.54" y1="336.00" x2="161.54" y2="477.40"/><line x1="170.32" y1="336.00" x2="170.32" y2="477.40"/><line x1="179.10" y1="336.00" x2="179.10" y2="477.40"/><line x1="187.88" y1="336.00" x2="187.88" y2="477.40"/><line x1="196.66" y1="336.00" x2="196.66" y2="477.40"/><line x1="205.44" y1="336.00" x2="205.44" y2="477.40"/><line x1="214.22" y1="336.00" x2="214.22" y2="477.40"/><line x1="223.00" y1="336.00" x2="223.00" y2="477.40"/><line x1="231.78" y1="336.00" x2="231.78" y2="477.40"/><line x1="240.56" y1="336.00" x2="240.56" y2="477.40"/><line x1="249.34" y1="336.00" x2="249.34" y2="477.40"/><line x1="258.12" y1="336.00" x2="258.12" y2="477.40"/><line x1="266.90" y1="336.00" x2="266.90" y2="477.40"/><line x1="275.68" y1="336.00" x2="275.68" y2="477.40"/><line x1="284.46" y1="336.00" x2="284.46" y2="477.40"/><line x1="293.24" y1="336.00" x2="293.24" y2="477.40"/><line x1="302.02" y1="336.00" x2="302.02" y2="477.40"/><line x1="135.20" y1="467.30" x2="310.80" y2="467.30"/><line x1="135.20" y1="457.20" x2="310.80" y2="457.20"/><line x1="135.20" y1="447.10" x2="310.80" y2="447.10"/><line x1="135.20" y1="437.00" x2="310.80" y2="437.00"/><line x1="135.20" y1="426.90" x2="310.80" y2="426.90"/><line x1="135.20" y1="416.80" x2="310.80" y2="416.80"/><line x1="135.20" y1="406.70" x2="310.80" y2="406.70"/><line x1="135.20" y1="396.60" x2="310.80" y2="396.60"/><line x1="135.20" y1="386.50" x2="310.80" y2="386.50"/><line x1="135.20" y1="376.40" x2="310.80" y2="376.40"/><line x1="135.20" y1="366.30" x2="310.80" y2="366.30"/><line x1="135.20" y1="356.20" x2="310.80" y2="356.20"/><line x1="135.20" y1="346.10" x2="310.80" y2="346.10"/></g>
<rect x="135.20" y="336.00" width="175.60" height="141.40" fill="none" stroke="#808080" stroke-width="1.4"/>
<polyline points="137.39,403.06 141.78,396.60 146.17,390.06 150.56,383.11 154.95,376.32 159.34,369.37 163.73,363.71 168.12,360.24 172.51,349.57 176.90,345.13 181.29,347.07 185.69,356.52 190.07,370.91 194.46,389.17 198.85,407.02 203.25,418.98 207.63,423.67 212.02,425.85 216.41,429.32 220.81,432.72 225.19,435.14 229.58,435.14 233.97,432.72 238.37,429.32 242.75,425.85 247.14,423.67 251.53,418.98 255.92,407.02 260.31,389.17 264.70,370.91 269.10,356.52 273.49,347.07 277.88,345.13 282.26,349.57 286.65,360.24 291.04,363.71 295.44,369.37 299.82,376.32 304.21,383.11 308.61,390.06" fill="none" stroke="#484848" stroke-width="1.1" stroke-linejoin="round"/>
<circle cx="137.39" cy="403.06" r="2.4" fill="url(#gG)"/><circle cx="141.78" cy="396.60" r="2.4" fill="url(#gG)"/><circle cx="146.17" cy="390.06" r="2.4" fill="url(#gG)"/><circle cx="150.56" cy="383.11" r="2.4" fill="url(#gG)"/><circle cx="154.95" cy="376.32" r="2.4" fill="url(#gG)"/><circle cx="159.34" cy="369.37" r="2.4" fill="url(#gG)"/><circle cx="163.73" cy="363.71" r="2.4" fill="url(#gG)"/><circle cx="168.12" cy="360.24" r="2.4" fill="url(#gG)"/><circle cx="172.51" cy="349.57" r="2.4" fill="url(#gG)"/><circle cx="176.90" cy="345.13" r="2.4" fill="url(#gG)"/><circle cx="181.29" cy="347.07" r="2.4" fill="url(#gG)"/><circle cx="185.69" cy="356.52" r="2.4" fill="url(#gG)"/><circle cx="190.07" cy="370.91" r="2.4" fill="url(#gG)"/><circle cx="194.46" cy="389.17" r="2.4" fill="url(#gG)"/><circle cx="198.85" cy="407.02" r="2.4" fill="url(#gG)"/><circle cx="203.25" cy="418.98" r="2.4" fill="url(#gG)"/><circle cx="207.63" cy="423.67" r="2.4" fill="url(#gG)"/><circle cx="212.02" cy="425.85" r="2.4" fill="url(#gG)"/><circle cx="216.41" cy="429.32" r="2.4" fill="url(#gG)"/><circle cx="220.81" cy="432.72" r="2.4" fill="url(#gG)"/><circle cx="225.19" cy="435.14" r="2.4" fill="url(#gG)"/><circle cx="229.58" cy="435.14" r="2.4" fill="url(#gG)"/><circle cx="233.97" cy="432.72" r="2.4" fill="url(#gG)"/><circle cx="238.37" cy="429.32" r="2.4" fill="url(#gG)"/><circle cx="242.75" cy="425.85" r="2.4" fill="url(#gG)"/><circle cx="247.14" cy="423.67" r="2.4" fill="url(#gG)"/><circle cx="251.53" cy="418.98" r="2.4" fill="url(#gG)"/><circle cx="255.92" cy="407.02" r="2.4" fill="url(#gG)"/><circle cx="260.31" cy="389.17" r="2.4" fill="url(#gG)"/><circle cx="264.70" cy="370.91" r="2.4" fill="url(#gG)"/><circle cx="269.10" cy="356.52" r="2.4" fill="url(#gG)"/><circle cx="273.49" cy="347.07" r="2.4" fill="url(#gG)"/><circle cx="277.88" cy="345.13" r="2.4" fill="url(#gG)"/><circle cx="282.26" cy="349.57" r="2.4" fill="url(#gG)"/><circle cx="286.65" cy="360.24" r="2.4" fill="url(#gG)"/><circle cx="291.04" cy="363.71" r="2.4" fill="url(#gG)"/><circle cx="295.44" cy="369.37" r="2.4" fill="url(#gG)"/><circle cx="299.82" cy="376.32" r="2.4" fill="url(#gG)"/><circle cx="304.21" cy="383.11" r="2.4" fill="url(#gG)"/><circle cx="308.61" cy="390.06" r="2.4" fill="url(#gG)"/>
<polyline points="137.39,402.01 141.78,399.83 146.17,398.22 150.56,397.97 154.95,398.22 159.34,399.51 163.73,400.72 168.12,402.58 172.51,408.72 176.90,414.38 181.29,420.03 185.69,425.93 190.07,432.56 194.46,439.34 198.85,444.92 203.25,450.98 207.63,456.72 212.02,461.72 216.41,466.09 220.81,469.24 225.19,470.69 229.58,470.69 233.97,469.24 238.37,466.09 242.75,461.72 247.14,456.72 251.53,450.98 255.92,444.92 260.31,439.34 264.70,432.56 269.10,425.93 273.49,420.03 277.88,414.38 282.26,408.72 286.65,402.58 291.04,400.72 295.44,399.51 299.82,398.22 304.21,397.97 308.61,398.22" fill="none" stroke="#f03c3c" stroke-width="1.1" stroke-linejoin="round"/>
<circle cx="137.39" cy="402.01" r="2.4" fill="url(#gR)"/><circle cx="141.78" cy="399.83" r="2.4" fill="url(#gR)"/><circle cx="146.17" cy="398.22" r="2.4" fill="url(#gR)"/><circle cx="150.56" cy="397.97" r="2.4" fill="url(#gR)"/><circle cx="154.95" cy="398.22" r="2.4" fill="url(#gR)"/><circle cx="159.34" cy="399.51" r="2.4" fill="url(#gR)"/><circle cx="163.73" cy="400.72" r="2.4" fill="url(#gR)"/><circle cx="168.12" cy="402.58" r="2.4" fill="url(#gR)"/><circle cx="172.51" cy="408.72" r="2.4" fill="url(#gR)"/><circle cx="176.90" cy="414.38" r="2.4" fill="url(#gR)"/><circle cx="181.29" cy="420.03" r="2.4" fill="url(#gR)"/><circle cx="185.69" cy="425.93" r="2.4" fill="url(#gR)"/><circle cx="190.07" cy="432.56" r="2.4" fill="url(#gR)"/><circle cx="194.46" cy="439.34" r="2.4" fill="url(#gR)"/><circle cx="198.85" cy="444.92" r="2.4" fill="url(#gR)"/><circle cx="203.25" cy="450.98" r="2.4" fill="url(#gR)"/><circle cx="207.63" cy="456.72" r="2.4" fill="url(#gR)"/><circle cx="212.02" cy="461.72" r="2.4" fill="url(#gR)"/><circle cx="216.41" cy="466.09" r="2.4" fill="url(#gR)"/><circle cx="220.81" cy="469.24" r="2.4" fill="url(#gR)"/><circle cx="225.19" cy="470.69" r="2.4" fill="url(#gR)"/><circle cx="229.58" cy="470.69" r="2.4" fill="url(#gR)"/><circle cx="233.97" cy="469.24" r="2.4" fill="url(#gR)"/><circle cx="238.37" cy="466.09" r="2.4" fill="url(#gR)"/><circle cx="242.75" cy="461.72" r="2.4" fill="url(#gR)"/><circle cx="247.14" cy="456.72" r="2.4" fill="url(#gR)"/><circle cx="251.53" cy="450.98" r="2.4" fill="url(#gR)"/><circle cx="255.92" cy="444.92" r="2.4" fill="url(#gR)"/><circle cx="260.31" cy="439.34" r="2.4" fill="url(#gR)"/><circle cx="264.70" cy="432.56" r="2.4" fill="url(#gR)"/><circle cx="269.10" cy="425.93" r="2.4" fill="url(#gR)"/><circle cx="273.49" cy="420.03" r="2.4" fill="url(#gR)"/><circle cx="277.88" cy="414.38" r="2.4" fill="url(#gR)"/><circle cx="282.26" cy="408.72" r="2.4" fill="url(#gR)"/><circle cx="286.65" cy="402.58" r="2.4" fill="url(#gR)"/><circle cx="291.04" cy="400.72" r="2.4" fill="url(#gR)"/><circle cx="295.44" cy="399.51" r="2.4" fill="url(#gR)"/><circle cx="299.82" cy="398.22" r="2.4" fill="url(#gR)"/><circle cx="304.21" cy="397.97" r="2.4" fill="url(#gR)"/><circle cx="308.61" cy="398.22" r="2.4" fill="url(#gR)"/>
<polyline points="137.39,404.52 141.78,402.58 146.17,399.51 150.56,396.60 154.95,394.82 159.34,393.77 163.73,393.45 168.12,393.77 172.51,397.00 176.90,402.50 181.29,409.29 185.69,417.85 190.07,427.71 194.46,437.32 198.85,446.21 203.25,453.89 207.63,460.11 212.02,464.96 216.41,468.19 220.81,469.97 225.19,471.34 229.58,471.34 233.97,469.97 238.37,468.19 242.75,464.96 247.14,460.11 251.53,453.89 255.92,446.21 260.31,437.32 264.70,427.71 269.10,417.85 273.49,409.29 277.88,402.50 282.26,397.00 286.65,393.77 291.04,393.45 295.44,393.77 299.82,394.82 304.21,396.60 308.61,399.51" fill="none" stroke="#2a7de8" stroke-width="1.1" stroke-linejoin="round"/>
<circle cx="137.39" cy="404.52" r="2.4" fill="url(#gB)"/><circle cx="141.78" cy="402.58" r="2.4" fill="url(#gB)"/><circle cx="146.17" cy="399.51" r="2.4" fill="url(#gB)"/><circle cx="150.56" cy="396.60" r="2.4" fill="url(#gB)"/><circle cx="154.95" cy="394.82" r="2.4" fill="url(#gB)"/><circle cx="159.34" cy="393.77" r="2.4" fill="url(#gB)"/><circle cx="163.73" cy="393.45" r="2.4" fill="url(#gB)"/><circle cx="168.12" cy="393.77" r="2.4" fill="url(#gB)"/><circle cx="172.51" cy="397.00" r="2.4" fill="url(#gB)"/><circle cx="176.90" cy="402.50" r="2.4" fill="url(#gB)"/><circle cx="181.29" cy="409.29" r="2.4" fill="url(#gB)"/><circle cx="185.69" cy="417.85" r="2.4" fill="url(#gB)"/><circle cx="190.07" cy="427.71" r="2.4" fill="url(#gB)"/><circle cx="194.46" cy="437.32" r="2.4" fill="url(#gB)"/><circle cx="198.85" cy="446.21" r="2.4" fill="url(#gB)"/><circle cx="203.25" cy="453.89" r="2.4" fill="url(#gB)"/><circle cx="207.63" cy="460.11" r="2.4" fill="url(#gB)"/><circle cx="212.02" cy="464.96" r="2.4" fill="url(#gB)"/><circle cx="216.41" cy="468.19" r="2.4" fill="url(#gB)"/><circle cx="220.81" cy="469.97" r="2.4" fill="url(#gB)"/><circle cx="225.19" cy="471.34" r="2.4" fill="url(#gB)"/><circle cx="229.58" cy="471.34" r="2.4" fill="url(#gB)"/><circle cx="233.97" cy="469.97" r="2.4" fill="url(#gB)"/><circle cx="238.37" cy="468.19" r="2.4" fill="url(#gB)"/><circle cx="242.75" cy="464.96" r="2.4" fill="url(#gB)"/><circle cx="247.14" cy="460.11" r="2.4" fill="url(#gB)"/><circle cx="251.53" cy="453.89" r="2.4" fill="url(#gB)"/><circle cx="255.92" cy="446.21" r="2.4" fill="url(#gB)"/><circle cx="260.31" cy="437.32" r="2.4" fill="url(#gB)"/><circle cx="264.70" cy="427.71" r="2.4" fill="url(#gB)"/><circle cx="269.10" cy="417.85" r="2.4" fill="url(#gB)"/><circle cx="273.49" cy="409.29" r="2.4" fill="url(#gB)"/><circle cx="277.88" cy="402.50" r="2.4" fill="url(#gB)"/><circle cx="282.26" cy="397.00" r="2.4" fill="url(#gB)"/><circle cx="286.65" cy="393.77" r="2.4" fill="url(#gB)"/><circle cx="291.04" cy="393.45" r="2.4" fill="url(#gB)"/><circle cx="295.44" cy="393.77" r="2.4" fill="url(#gB)"/><circle cx="299.82" cy="394.82" r="2.4" fill="url(#gB)"/><circle cx="304.21" cy="396.60" r="2.4" fill="url(#gB)"/><circle cx="308.61" cy="399.51" r="2.4" fill="url(#gB)"/>
<g stroke="#666" stroke-width="0.8"><line x1="135.20" y1="477.40" x2="135.20" y2="479.60"/><line x1="143.98" y1="477.40" x2="143.98" y2="478.60"/><line x1="152.76" y1="477.40" x2="152.76" y2="479.60"/><line x1="161.54" y1="477.40" x2="161.54" y2="478.60"/><line x1="170.32" y1="477.40" x2="170.32" y2="479.60"/><line x1="179.10" y1="477.40" x2="179.10" y2="478.60"/><line x1="187.88" y1="477.40" x2="187.88" y2="479.60"/><line x1="196.66" y1="477.40" x2="196.66" y2="478.60"/><line x1="205.44" y1="477.40" x2="205.44" y2="479.60"/><line x1="214.22" y1="477.40" x2="214.22" y2="478.60"/><line x1="223.00" y1="477.40" x2="223.00" y2="479.60"/><line x1="231.78" y1="477.40" x2="231.78" y2="478.60"/><line x1="240.56" y1="477.40" x2="240.56" y2="479.60"/><line x1="249.34" y1="477.40" x2="249.34" y2="478.60"/><line x1="258.12" y1="477.40" x2="258.12" y2="479.60"/><line x1="266.90" y1="477.40" x2="266.90" y2="478.60"/><line x1="275.68" y1="477.40" x2="275.68" y2="479.60"/><line x1="284.46" y1="477.40" x2="284.46" y2="478.60"/><line x1="293.24" y1="477.40" x2="293.24" y2="479.60"/><line x1="302.02" y1="477.40" x2="302.02" y2="478.60"/><line x1="310.80" y1="477.40" x2="310.80" y2="479.60"/><line x1="135.20" y1="477.40" x2="133.00" y2="477.40"/><line x1="135.20" y1="467.30" x2="134.00" y2="467.30"/><line x1="135.20" y1="457.20" x2="133.00" y2="457.20"/><line x1="135.20" y1="447.10" x2="134.00" y2="447.10"/><line x1="135.20" y1="437.00" x2="133.00" y2="437.00"/><line x1="135.20" y1="426.90" x2="134.00" y2="426.90"/><line x1="135.20" y1="416.80" x2="133.00" y2="416.80"/><line x1="135.20" y1="406.70" x2="134.00" y2="406.70"/><line x1="135.20" y1="396.60" x2="133.00" y2="396.60"/><line x1="135.20" y1="386.50" x2="134.00" y2="386.50"/><line x1="135.20" y1="376.40" x2="133.00" y2="376.40"/><line x1="135.20" y1="366.30" x2="134.00" y2="366.30"/><line x1="135.20" y1="356.20" x2="133.00" y2="356.20"/><line x1="135.20" y1="346.10" x2="134.00" y2="346.10"/><line x1="135.20" y1="336.00" x2="133.00" y2="336.00"/></g>
<text x="135.20" y="486.5" font-size="6.4" fill="#222" stroke="#222" stroke-width="0.12" text-anchor="middle">200</text>
<text x="152.76" y="486.5" font-size="6.4" fill="#222" stroke="#222" stroke-width="0.12" text-anchor="middle">210</text>
<text x="170.32" y="486.5" font-size="6.4" fill="#222" stroke="#222" stroke-width="0.12" text-anchor="middle">220</text>
<text x="187.88" y="486.5" font-size="6.4" fill="#222" stroke="#222" stroke-width="0.12" text-anchor="middle">230</text>
<text x="205.44" y="486.5" font-size="6.4" fill="#222" stroke="#222" stroke-width="0.12" text-anchor="middle">240</text>
<text x="223.00" y="486.5" font-size="6.4" fill="#222" stroke="#222" stroke-width="0.12" text-anchor="middle">250</text>
<text x="240.56" y="486.5" font-size="6.4" fill="#222" stroke="#222" stroke-width="0.12" text-anchor="middle">260</text>
<text x="258.12" y="486.5" font-size="6.4" fill="#222" stroke="#222" stroke-width="0.12" text-anchor="middle">270</text>
<text x="275.68" y="486.5" font-size="6.4" fill="#222" stroke="#222" stroke-width="0.12" text-anchor="middle">280</text>
<text x="293.24" y="486.5" font-size="6.4" fill="#222" stroke="#222" stroke-width="0.12" text-anchor="middle">290</text>
<text x="310.80" y="486.5" font-size="6.4" fill="#222" stroke="#222" stroke-width="0.12" text-anchor="middle">300</text>
<text x="130.80" y="479.60" font-size="6.4" fill="#222" stroke="#222" stroke-width="0.12" text-anchor="end">1.25</text>
<text x="130.80" y="459.40" font-size="6.4" fill="#222" stroke="#222" stroke-width="0.12" text-anchor="end">1.50</text>
<text x="130.80" y="439.20" font-size="6.4" fill="#222" stroke="#222" stroke-width="0.12" text-anchor="end">1.75</text>
<text x="130.80" y="419.00" font-size="6.4" fill="#222" stroke="#222" stroke-width="0.12" text-anchor="end">2.00</text>
<text x="130.80" y="398.80" font-size="6.4" fill="#222" stroke="#222" stroke-width="0.12" text-anchor="end">2.25</text>
<text x="130.80" y="378.60" font-size="6.4" fill="#222" stroke="#222" stroke-width="0.12" text-anchor="end">2.50</text>
<text x="130.80" y="358.40" font-size="6.4" fill="#222" stroke="#222" stroke-width="0.12" text-anchor="end">2.75</text>
<text x="130.80" y="338.20" font-size="6.4" fill="#222" stroke="#222" stroke-width="0.12" text-anchor="end">3.00</text>
<rect x="444.4" y="393.8" width="202.2" height="93.4" fill="#fff" stroke="#333" stroke-width="1.2"/>
<line x1="445.5" y1="404.8" x2="484.5" y2="404.8" stroke="#4a4a4a" stroke-width="1.8"/>
<circle cx="464.3" cy="404.8" r="4.7" fill="url(#gG)"/>
<line x1="445.5" y1="428.8" x2="484.5" y2="428.8" stroke="#f03c3c" stroke-width="1.8"/>
<circle cx="464.3" cy="428.8" r="4.7" fill="url(#gR)"/>
<line x1="445.5" y1="452" x2="484.5" y2="452" stroke="#2a7de8" stroke-width="1.8"/>
<circle cx="464.3" cy="452" r="4.7" fill="url(#gB)"/>
<text x="492" y="410.8" font-size="19" fill="#161616">Roof of coal</text>
<text x="492" y="434.4" font-size="19" fill="#161616">Floor of coal</text>
<text x="487.2" y="458.4" font-size="19" fill="#161616">Roof of the roadway</text>
<text x="487.9" y="481.3" font-size="19" fill="#161616">to be excavated</text>
<rect x="67.94" y="9.24" width="601.74" height="484.85" fill="none" stroke="#262a3a" stroke-width="1.7"/>
<g stroke="#111" stroke-width="1.8"><line x1="67.94" y1="494.09" x2="67.94" y2="503.59"/><line x1="98.03" y1="494.09" x2="98.03" y2="499.09"/><line x1="128.11" y1="494.09" x2="128.11" y2="503.59"/><line x1="158.20" y1="494.09" x2="158.20" y2="499.09"/><line x1="188.29" y1="494.09" x2="188.29" y2="503.59"/><line x1="218.38" y1="494.09" x2="218.38" y2="499.09"/><line x1="248.46" y1="494.09" x2="248.46" y2="503.59"/><line x1="278.55" y1="494.09" x2="278.55" y2="499.09"/><line x1="308.64" y1="494.09" x2="308.64" y2="503.59"/><line x1="338.72" y1="494.09" x2="338.72" y2="499.09"/><line x1="368.81" y1="494.09" x2="368.81" y2="503.59"/><line x1="398.90" y1="494.09" x2="398.90" y2="499.09"/><line x1="428.98" y1="494.09" x2="428.98" y2="503.59"/><line x1="459.07" y1="494.09" x2="459.07" y2="499.09"/><line x1="489.16" y1="494.09" x2="489.16" y2="503.59"/><line x1="519.25" y1="494.09" x2="519.25" y2="499.09"/><line x1="549.33" y1="494.09" x2="549.33" y2="503.59"/><line x1="579.42" y1="494.09" x2="579.42" y2="499.09"/><line x1="609.51" y1="494.09" x2="609.51" y2="503.59"/><line x1="639.59" y1="494.09" x2="639.59" y2="499.09"/><line x1="669.68" y1="494.09" x2="669.68" y2="503.59"/><line x1="67.94" y1="494.09" x2="58.44" y2="494.09"/><line x1="67.94" y1="453.69" x2="62.94" y2="453.69"/><line x1="67.94" y1="413.28" x2="58.44" y2="413.28"/><line x1="67.94" y1="372.88" x2="62.94" y2="372.88"/><line x1="67.94" y1="332.47" x2="58.44" y2="332.47"/><line x1="67.94" y1="292.07" x2="62.94" y2="292.07"/><line x1="67.94" y1="251.67" x2="58.44" y2="251.67"/><line x1="67.94" y1="211.26" x2="62.94" y2="211.26"/><line x1="67.94" y1="170.86" x2="58.44" y2="170.86"/><line x1="67.94" y1="130.45" x2="62.94" y2="130.45"/><line x1="67.94" y1="90.05" x2="58.44" y2="90.05"/><line x1="67.94" y1="49.64" x2="62.94" y2="49.64"/><line x1="67.94" y1="9.24" x2="58.44" y2="9.24"/></g>
<text x="67.94" y="525.7" font-size="21.5" fill="#111" text-anchor="middle">0</text>
<text x="128.11" y="525.7" font-size="21.5" fill="#111" text-anchor="middle">50</text>
<text x="188.29" y="525.7" font-size="21.5" fill="#111" text-anchor="middle">100</text>
<text x="248.46" y="525.7" font-size="21.5" fill="#111" text-anchor="middle">150</text>
<text x="308.64" y="525.7" font-size="21.5" fill="#111" text-anchor="middle">200</text>
<text x="368.81" y="525.7" font-size="21.5" fill="#111" text-anchor="middle">250</text>
<text x="428.98" y="525.7" font-size="21.5" fill="#111" text-anchor="middle">300</text>
<text x="489.16" y="525.7" font-size="21.5" fill="#111" text-anchor="middle">350</text>
<text x="549.33" y="525.7" font-size="21.5" fill="#111" text-anchor="middle">400</text>
<text x="609.51" y="525.7" font-size="21.5" fill="#111" text-anchor="middle">450</text>
<text x="669.68" y="525.7" font-size="21.5" fill="#111" text-anchor="middle">500</text>
<text x="52.3" y="500.19" font-size="21.5" fill="#111" text-anchor="end">0.5</text>
<text x="52.3" y="419.38" font-size="21.5" fill="#111" text-anchor="end">1.0</text>
<text x="52.3" y="338.57" font-size="21.5" fill="#111" text-anchor="end">1.5</text>
<text x="52.3" y="257.77" font-size="21.5" fill="#111" text-anchor="end">2.0</text>
<text x="52.3" y="176.96" font-size="21.5" fill="#111" text-anchor="end">2.5</text>
<text x="52.3" y="96.15" font-size="21.5" fill="#111" text-anchor="end">3.0</text>
<text x="52.3" y="15.34" font-size="21.5" fill="#111" text-anchor="end">3.5</text>
<text x="323.2" y="553.7" font-size="25" fill="#111">Length/m</text>
<text transform="translate(19.7,251.8) rotate(-90)" font-size="25" fill="#111" text-anchor="middle">Principal stress ratio</text>
</svg></body></html>
